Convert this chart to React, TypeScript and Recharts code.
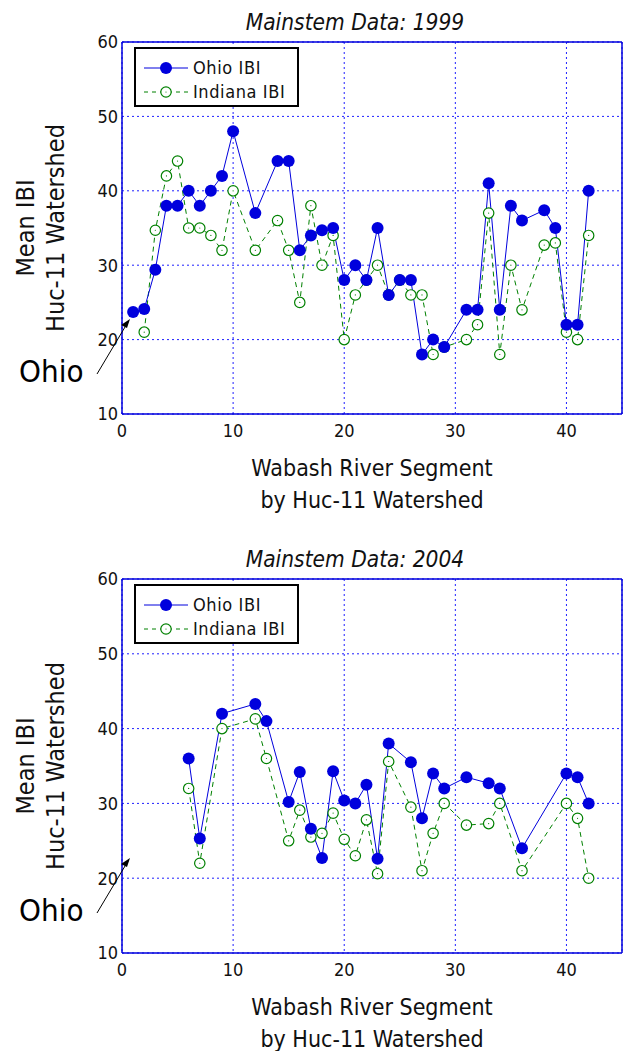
import { LineChart, Line, XAxis, YAxis, CartesianGrid, ReferenceLine, Legend } from 'recharts'

const segments1999 = [1, 2, 3, 4, 5, 6, 7, 8, 9, 10, 12, 14, 15, 16, 17, 18, 19, 20, 21, 22, 23, 24, 25, 26, 27, 28, 29, 31, 32, 33, 34, 35, 36, 38, 39, 40, 41, 42]
const ohio1999 = [23.7, 24.1, 29.4, 38, 38, 40, 38, 40, 42, 48, 37, 44, 44, 32, 34, 34.7, 35, 28, 30, 28, 35, 26, 28, 28, 18, 20, 19, 24, 24, 41, 24, 38, 36, 37.4, 35, 22, 22, 40]
const indiana1999 = [null, 21, 34.7, 42, 44, 35, 35, 34, 32, 40, 32, 36, 32, 25, 38, 30, 34, 20, 26, 28, 30, 26, 28, 26, 26, 18, 19, 20, 22, 37, 18, 30, 24, 32.7, 33, 21, 20, 34]

const segments2004 = [6, 7, 9, 12, 13, 15, 16, 17, 18, 19, 20, 21, 22, 23, 24, 26, 27, 28, 29, 31, 33, 34, 36, 40, 41, 42]
const ohio2004 = [36, 25.3, 42, 43.3, 41, 30.2, 34.2, 26.6, 22.7, 34.3, 30.4, 30, 32.5, 22.6, 38, 35.5, 28, 34, 32, 33.5, 32.7, 32, 24, 34, 33.5, 30]
const indiana2004 = [32, 22, 40, 41.3, 36, 25, 29.1, 25.5, 26, 28.7, 25.2, 23, 27.8, 20.6, 35.6, 29.5, 21, 26, 30, 27.1, 27.3, 30, 21, 30, 28, 20]

const xTicks = [0, 10, 20, 30, 40]
const yTicks = [10, 20, 30, 40, 50, 60]

const FONT = '"DejaVu Sans Condensed", "DejaVu Sans", sans-serif'
const BLUE = '#0000dd'
const GRID = '#1f1fff'
const GREEN = '#008000'

const OpenDot = (props: any) => {
  const { cx, cy } = props
  if (cx == null || cy == null) return <g />
  return (
    <g>
      <circle cx={cx} cy={cy} r={5.2} fill="#fff" stroke={GREEN} strokeWidth={1.2} />
      <circle cx={cx} cy={cy} r={0.6} fill={GREEN} />
    </g>
  )
}

const LegendBox = () => (
  <div
    style={{
      border: '2px solid #000',
      background: '#fff',
      width: 165,
      height: 60,
      boxSizing: 'border-box'
    }}
  >
    <svg width={165} height={60} style={{ position: 'absolute', left: 0, top: 0 }}>
      <line x1={10} y1={21} x2={54} y2={21} stroke={BLUE} strokeWidth={1} />
      <circle cx={32} cy={21} r={6} fill={BLUE} />
      <line x1={10} y1={45} x2={54} y2={45} stroke={GREEN} strokeDasharray="4 4" />
      <circle cx={32} cy={45} r={5.2} fill="#fff" stroke={GREEN} strokeWidth={1.2} />
      <circle cx={32} cy={45} r={0.6} fill={GREEN} />
      <text x={59} y={27} fontFamily={FONT} fontSize={18} letterSpacing={0.6} fill="#111">Ohio IBI</text>
      <text x={59} y={51} fontFamily={FONT} fontSize={18} letterSpacing={0.6} fill="#111">Indiana IBI</text>
    </svg>
  </div>
)

function Panel({ top, height, plotTop, plotBottom, title, segments, ohio, indiana }: any) {
  const rows = segments.map((s: number, i: number) => ({ seg: s, ohio: ohio[i], indiana: indiana[i] }))
  const plotMid = (plotTop + plotBottom) / 2
  return (
    <div style={{ position: 'absolute', left: 0, top, width: 626, height }}>
      <LineChart
        width={626}
        height={height}
        data={rows}
        margin={{ top: plotTop, right: 4, left: 0, bottom: height - plotBottom - 30 }}
      >
        <CartesianGrid stroke={GRID} strokeDasharray="2 3" />
        <XAxis
          dataKey="seg"
          type="number"
          domain={[0, 45]}
          ticks={xTicks}
          height={30}
          axisLine={{ stroke: BLUE, strokeWidth: 1.5 }}
          tickLine={false}
          tickMargin={4}
          tick={{ fill: '#111', fontSize: 18, fontFamily: FONT }}
        />
        <YAxis
          type="number"
          domain={[10, 60]}
          ticks={yTicks}
          width={122}
          axisLine={{ stroke: BLUE, strokeWidth: 1.5 }}
          tickLine={false}
          tickSize={4}
          tickMargin={0}
          tick={{ fill: '#111', fontSize: 18, fontFamily: FONT }}
        />
        <ReferenceLine y={60} stroke={BLUE} strokeWidth={1.5} />
        <ReferenceLine x={45} stroke={BLUE} strokeWidth={1.5} />
        <Legend
          layout="vertical"
          align="center"
          verticalAlign="middle"
          content={() => <LegendBox />}
          wrapperStyle={{ position: 'absolute', left: 134, top: plotTop + 5, width: 165, height: 60 }}
        />
        <Line
          dataKey="indiana"
          stroke={GREEN}
          strokeWidth={1}
          strokeDasharray="5 4"
          dot={<OpenDot />}
          activeDot={false}
          connectNulls
          isAnimationActive={false}
        />
        <Line
          dataKey="ohio"
          stroke={BLUE}
          strokeWidth={1}
          dot={{ r: 6, fill: BLUE, stroke: BLUE, strokeWidth: 0 }}
          activeDot={false}
          connectNulls
          isAnimationActive={false}
        />
      </LineChart>
      <svg width={626} height={height} style={{ position: 'absolute', left: 0, top: 0, pointerEvents: 'none' }}>
        <text x={355} y={plotTop - 12} textAnchor="middle" fontFamily={FONT} fontStyle="italic" fontSize={22.5} fill="#111">
          {title}
        </text>
        <text x={372} y={plotBottom + 62} textAnchor="middle" fontFamily={FONT} fontSize={23} fill="#111">
          Wabash River Segment
        </text>
        <text x={372} y={plotBottom + 94} textAnchor="middle" fontFamily={FONT} fontSize={23} fill="#111">
          by Huc-11 Watershed
        </text>
        <text
          x={0}
          y={0}
          transform={`translate(34 ${plotMid}) rotate(-90)`}
          textAnchor="middle"
          fontFamily={FONT}
          fontSize={25}
          fill="#111"
        >
          Mean IBI
        </text>
        <text
          x={0}
          y={0}
          transform={`translate(64 ${plotMid}) rotate(-90)`}
          textAnchor="middle"
          fontFamily={FONT}
          fontSize={25}
          fill="#111"
        >
          Huc-11 Watershed
        </text>
        <text x={19} y={plotBottom - 32} fontFamily={FONT} fontSize={31} fill="#000">
          Ohio
        </text>
        <line x1={97} y1={plotBottom - 40} x2={128} y2={plotBottom - 92} stroke="#000" strokeWidth={1} />
        <path d={`M ${130} ${plotBottom - 95} l -9 6 l 6 3 z`} fill="#000" />
      </svg>
    </div>
  )
}

export default function App() {
  return (
    <div style={{ position: 'absolute', left: 0, top: 0, width: 626, height: 1051, background: '#fff' }}>
      <Panel
        top={0}
        height={525}
        plotTop={42}
        plotBottom={414}
        title="Mainstem Data: 1999"
        segments={segments1999}
        ohio={ohio1999}
        indiana={indiana1999}
      />
      <Panel
        top={525}
        height={526}
        plotTop={54}
        plotBottom={428}
        title="Mainstem Data: 2004"
        segments={segments2004}
        ohio={ohio2004}
        indiana={indiana2004}
      />
    </div>
  )
}
